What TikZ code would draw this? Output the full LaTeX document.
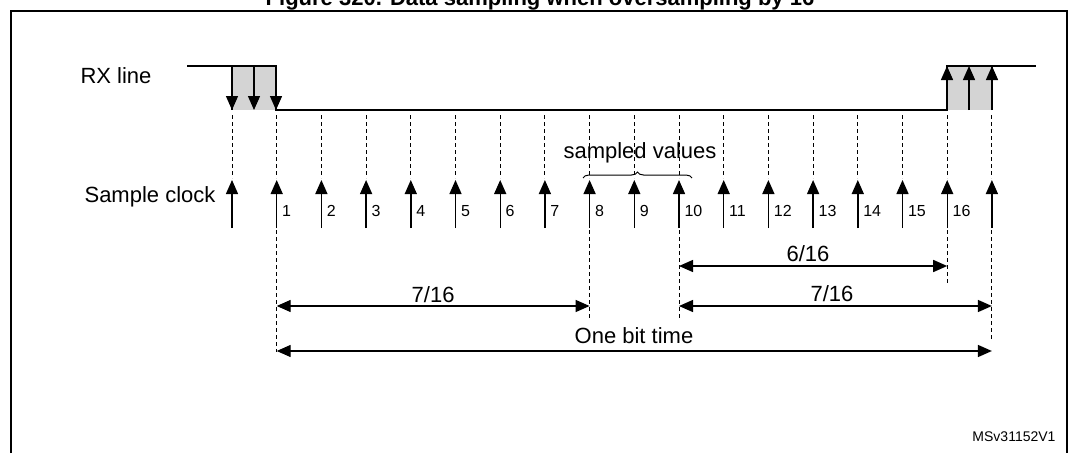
\documentclass[tikz,border=0pt]{standalone}
\usepackage{fontspec}
\setmainfont{Liberation Sans}
\usetikzlibrary{arrows.meta}
\usetikzlibrary{positioning}
\usetikzlibrary{calc}
\usetikzlibrary{decorations.pathreplacing}
\tikzset{
    tick/.style={draw=black, line width=1.4pt, -{Triangle[width=12pt,length=14pt]}},
    guide/.style={draw=black, dashed, line width=1pt, dash pattern=on 4pt off 3pt},
    span/.style={draw=black, line width=1.4pt, {Triangle[width=12pt,length=14pt]}-{Triangle[width=12pt,length=14pt]}},
    level/.style={draw=black, line width=1.4pt},
    num/.style={font=\fontsize{16}{16}\selectfont, anchor=west},
    lab/.style={font=\fontsize{22}{22}\selectfont},
}
\begin{document}
\begin{tikzpicture}[x=1pt, y=-1pt]
	\useasboundingbox (0,0) rectangle (1080,453);
	\draw[line width=1.5pt] (11,453)--(11,11)--(1067,11)--(1067,453);
	\node[font=\bfseries\fontsize{22}{22}\selectfont] (title) at (540,0) {Figure 320. Data sampling when oversampling by 16};
	% sample positions
	\foreach \i in {0,...,17}
		\coordinate (c\i) at ({232+44.7*\i},0);
	% grey edges
	\fill[black!17] (232,66) rectangle (276,110);
	\fill[black!17] (947,66) rectangle (992,110);
	\draw[level] (187,66)--(276,66)--(276,110)--(947,110)--(947,66)--(1036,66);
	\draw[level] (232,66)--(232,110);
	\draw[level] (992,66)--(992,110);
	\foreach \x in {232,254,276}
		\draw[tick] (\x,66)--(\x,110);
	\foreach \x in {947,969,992}
		\draw[tick] (\x,110)--(\x,66);
	% clock
	\foreach \i in {0,...,17} {
		\draw[guide] (c\i |- 0,115)--(c\i |- 0,178);
		\draw[tick] (c\i |- 0,228)--(c\i |- 0,180);
	}
	\foreach \i in {1,...,16}
		\node[num] (n\i) at ([xshift=2pt]c\i |- 0,211) {\i};
	\node[lab] (rx) at (116,76) {RX line};
	\node[lab] (clk) at (150,197) {Sample clock};
	% brace
	\draw[decorate, decoration={brace, amplitude=6pt}, line width=1pt] (583,178)--(692,178);
	\node[lab] (sv) at (640,153) {sampled values};
	% extension guides
	\draw[guide] (c1 |- 0,230)--(c1 |- 0,352);
	\draw[guide] (c8 |- 0,230)--(c8 |- 0,318);
	\draw[guide] (c10 |- 0,230)--(c10 |- 0,318);
	\draw[guide] (c16 |- 0,230)--(c16 |- 0,283);
	\draw[guide] (c17 |- 0,230)--(c17 |- 0,340);
	\coordinate (a1) at (c1 |- 0,306);
	\coordinate (a8) at (c8 |- 0,306);
	\coordinate (b10) at (c10 |- 0,266);
	\coordinate (b16) at (c16 |- 0,266);
	\coordinate (d10) at (c10 |- 0,306);
	\coordinate (d17) at (c17 |- 0,306);
	\coordinate (e1) at (c1 |- 0,351);
	\coordinate (e17) at (c17 |- 0,351);
	\draw[span] (a1)--(a8);
	\draw[span] (b10)--(b16);
	\draw[span] (d10)--(d17);
	\draw[span] (e1)--(e17);
	\node[lab, above=0pt of $(a1)!0.5!(a8)$] (s1) {7/16};
	\node[lab] (s2) at (808,254) {6/16};
	\node[lab] (s3) at (832,294) {7/16};
	\node[lab] (s4) at (634,336) {One bit time};
	\node[font=\fontsize{14}{14}\selectfont] (ref) at (1014,437) {MSv31152V1};
\end{tikzpicture}
\end{document}
